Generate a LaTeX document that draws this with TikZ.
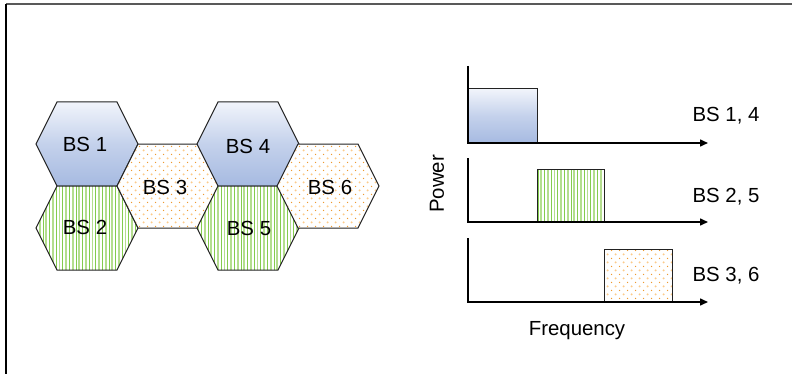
\documentclass[tikz,border=0pt]{standalone}
\usepackage{fontspec}
\setmainfont{Liberation Sans}
\usepackage{tikz}
\usetikzlibrary{arrows.meta,patterns.meta}

\definecolor{bluetop}{HTML}{F1F4FB}
\definecolor{bluebot}{HTML}{A6BAE1}
\definecolor{greenlight}{HTML}{B4DE8E}
\definecolor{greendark}{HTML}{84CC4E}
\definecolor{orangelight}{HTML}{FCCB8A}
\definecolor{orangedark}{HTML}{EE9A30}
\definecolor{edgegray}{HTML}{222222}

% hexagon outline, started from its centre
\newcommand{\cellpath}{++(-51,0) -- ++(21,-42) -- ++(60,0) -- ++(21,42) -- ++(-21,42) -- ++(-60,0) -- cycle}

\begin{document}
\begin{tikzpicture}[x=0.5pt,y=-0.5pt,font=\fontsize{10.2}{12}\selectfont,
    bluecell/.style={draw=edgegray,line width=0.5pt,top color=bluetop,bottom color=bluebot,
                     middle color=bluebot!60!bluetop},
    greencell/.style={draw=edgegray,line width=0.5pt,preaction={fill=white},
                      preaction={pattern={Lines[angle=90,distance=3.3pt,line width=0.9pt]},pattern color=greenlight},
                      preaction={pattern={Lines[angle=90,distance=3.3pt,xshift=1.65pt,line width=0.35pt]},pattern color=greendark}},
    orangecell/.style={draw=edgegray,line width=0.5pt,preaction={fill=white},
                       preaction={pattern={Dots[distance=4pt,radius=0.6pt]},pattern color=orangelight},
                       preaction={pattern={Dots[distance=4pt,radius=0.4pt,xshift=2pt,yshift=2pt]},pattern color=orangedark}},
    axis/.style={line width=0.75pt,-{Triangle[length=4pt,width=3.5pt]}},
    label/.style={inner sep=0pt}]
  \useasboundingbox (0,0) rectangle (792,374);
  \draw[line width=0.7pt,black!65] (6,4) -- (792,4);
  \draw[line width=0.7pt] (6,4) -- (6,374);

  % cells
  \draw[bluecell] (87,144) \cellpath;
  \draw[greencell] (87,228) \cellpath;
  \draw[orangecell] (168,186) \cellpath;
  \draw[bluecell] (248,144) \cellpath;
  \draw[greencell] (248,228) \cellpath;
  \draw[orangecell] (328,186) \cellpath;
  \node[label] (bs1) at (85,144) {BS 1};
  \node[label] (bs2) at (85,227) {BS 2};
  \node[label] (bs3) at (165,187) {BS 3};
  \node[label] (bs4) at (248,146) {BS 4};
  \node[label] (bs5) at (249,228) {BS 5};
  \node[label] (bs6) at (330,187) {BS 6};

  % spectrum plots
  \coordinate (o1) at (468,143); \coordinate (y1) at (468,66); \coordinate (x1) at (708,143);
  \coordinate (o2) at (468,222); \coordinate (y2) at (468,158); \coordinate (x2) at (708,222);
  \coordinate (o3) at (468,302); \coordinate (y3) at (468,238); \coordinate (x3) at (708,302);
  \draw[bluecell] (468,89) rectangle (537,143);
  \draw[greencell] (537,169) rectangle (604,222);
  \draw[orangecell] (604,249) rectangle (672,302);
  \foreach \i in {1,2,3}
    \draw[axis] (y\i) -- (o\i) -- (x\i);
  \node[label] (l14) at (726,116) {BS 1, 4};
  \node[label] (l25) at (726,197) {BS 2, 5};
  \node[label] (l36) at (726,276) {BS 3, 6};
  \node[label,rotate=90] (pow) at (437,184) {Power};
  \node[label] (freq) at (577,331) {Frequency};
\end{tikzpicture}
\end{document}
